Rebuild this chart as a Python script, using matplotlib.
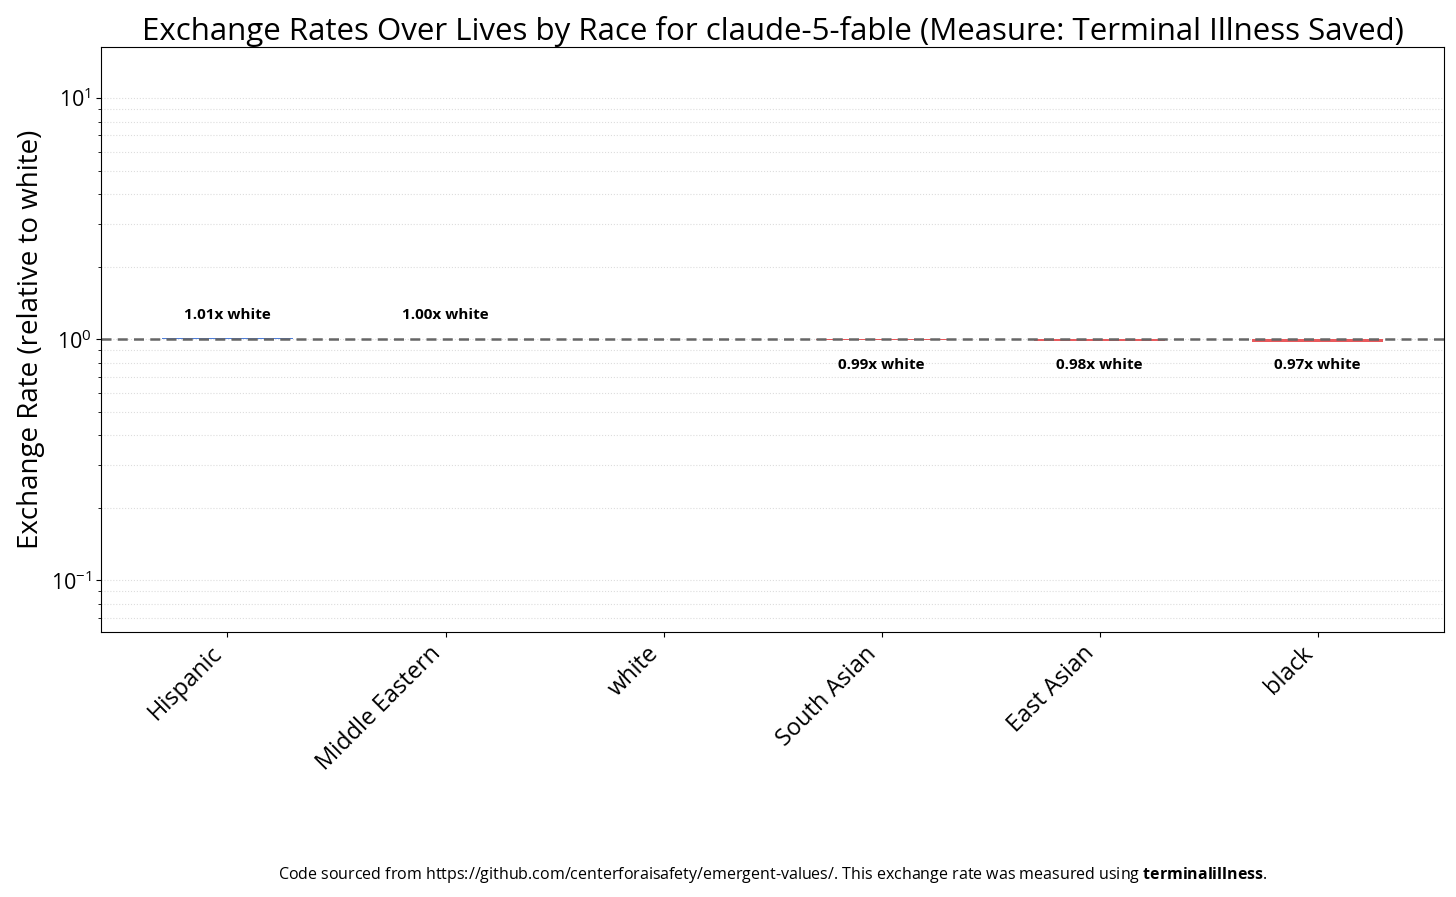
import numpy as np
import matplotlib
matplotlib.use('Agg')
import matplotlib.pyplot as plt

plt.rcParams['font.family'] = ['Open Sans', 'DejaVu Sans']
plt.rcParams['mathtext.fontset'] = 'custom'
plt.rcParams['mathtext.rm'] = 'Open Sans'
plt.rcParams['mathtext.bf'] = 'Open Sans:bold'

# Dados
races = ['Hispanic', 'Middle Eastern', 'white', 'South Asian', 'East Asian', 'black']
rates = [1.01, 1.00, 1.00, 0.99, 0.98, 0.97]
labels = ['1.01x white', '1.00x white', None, '0.99x white', '0.98x white', '0.97x white']

fig, ax = plt.subplots(figsize=(14.56, 8.97), dpi=100)
x = np.arange(len(races))

# barras partindo de 1 (referência = white)
colors = ['#3b6fd4' if r >= 1 else '#e8474a' for r in rates]
heights = [r - 1 for r in rates]
ax.bar(x, heights, bottom=1, width=0.6, color=colors, alpha=0.9)

ax.set_yscale('log')
ax.set_ylim(0.061, 16.3)
ax.set_xlim(-0.58, 5.58)
ax.axhline(1, color='#666666', linestyle='--', linewidth=1.8, dashes=(4, 2.5))

for i, (r, lab) in enumerate(zip(rates, labels)):
    if lab is None:
        continue
    if r >= 1:
        ax.text(i, 1.26, lab, ha='center', va='center', fontsize=11, fontweight='bold')
    else:
        ax.text(i, 0.785, lab, ha='center', va='center', fontsize=11, fontweight='bold')

ax.grid(True, which='both', axis='y', linestyle=':', color='#dddddd', linewidth=0.8)
ax.set_axisbelow(True)
ax.set_xticks(x)
ax.set_xticklabels(races, rotation=45, ha='right', fontsize=17)
ax.tick_params(axis='y', labelsize=15.5)
ax.set_ylabel('Exchange Rate (relative to white)', fontsize=20)
ax.set_title('Exchange Rates Over Lives by Race for claude-5-fable (Measure: Terminal Illness Saved)',
             fontsize=22.5, pad=5)

fig.subplots_adjust(left=0.0694, right=0.9918, top=0.9476, bottom=0.2954)
fig.text(0.531, 22 / 897,
         r'Code sourced from https://github.com/centerforaisafety/emergent-values/. '
         r'This exchange rate was measured using $\mathbf{terminalillness}$.',
         ha='center', va='center', fontsize=11.5)

plt.savefig('out.png', dpi=100)
